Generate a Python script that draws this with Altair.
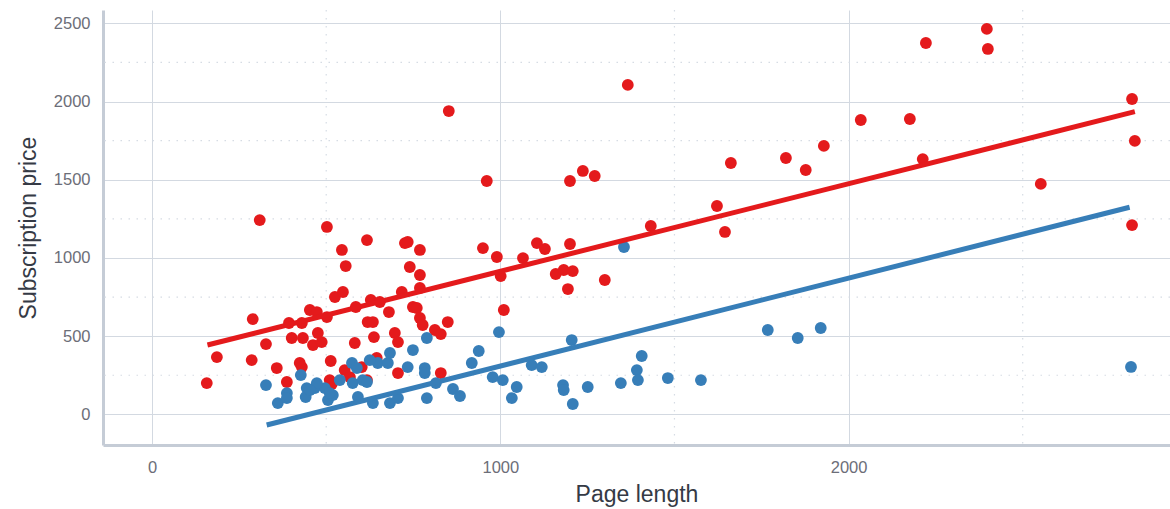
import altair as alt
import pandas as pd

# ---- data ----
red_x = [157, 186, 309, 289, 286, 327, 358, 387, 424, 430, 393, 430, 401, 433, 453, 473, 462, 487,
         476, 502, 513, 510, 516, 502, 545, 556, 617, 525, 548, 582, 585, 628, 654, 619, 634, 637,
         680, 553, 568, 602, 617, 645, 726, 734, 769, 740, 769, 717, 769, 749, 760, 769, 697, 706,
         777, 812, 706, 829, 849, 829, 852, 950, 990, 1001, 1010, 1065, 1105, 1128, 1200, 1159, 1182,
         1208, 1194, 1300, 961, 1200, 1237, 1271, 1366, 1432, 1622, 1645, 1662, 1820, 1877, 1929,
         2035, 2176, 2213, 2222, 2397, 2400, 2552, 2814, 2822, 2814]
red_y = [200, 366, 1242, 609, 347, 449, 296, 207, 328, 302, 584, 584, 488, 488, 667, 654, 443, 462,
         520, 622, 341, 219, 194, 1198, 1051, 948, 1114, 750, 782, 456, 686, 731, 718, 590, 590, 494,
         654, 283, 238, 302, 219, 360, 1095, 1102, 1051, 942, 891, 782, 808, 686, 680, 616, 520, 462,
         571, 539, 264, 264, 590, 513, 1939, 1063, 1006, 884, 667, 999, 1095, 1057, 1089, 897, 923,
         916, 801, 859, 1492, 1492, 1556, 1524, 2106, 1204, 1332, 1166, 1607, 1639, 1562, 1716,
         1882, 1888, 1632, 2374, 2464, 2336, 1473, 2016, 1748, 1210]

blue_x = [327, 361, 387, 387, 427, 444, 441, 467, 496, 505, 519, 574, 576, 591, 634, 648, 677, 683,
          625, 588, 605, 617, 734, 749, 789, 783, 783, 539, 473, 453, 510, 683, 706, 789, 815, 864,
          884, 918, 938, 978, 1007, 996, 1047, 1033, 1090, 1119, 1205, 1180, 1182, 1251, 1208, 1355,
          1346, 1392, 1395, 1406, 1481, 1576, 1768, 1854, 1920, 2811]
blue_y = [187, 72, 136, 104, 251, 168, 111, 168, 168, 91, 123, 328, 200, 111, 72, 328, 328, 392,
          347, 296, 219, 207, 302, 411, 488, 296, 264, 219, 200, 155, 136, 72, 104, 104, 200, 162,
          117, 328, 405, 238, 219, 526, 175, 104, 315, 302, 475, 187, 155, 175, 66, 1070,
          200, 283, 219, 373, 232, 219, 539, 488, 552, 303]

# fitted lines (end points)
fit_red_x = [159, 2822]
fit_red_y = [443, 1935]
fit_blue_x = [329, 2807]
fit_blue_y = [-68, 1324]

x_major = [0, 1000, 2000]
y_major = [0, 500, 1000, 1500, 2000, 2500]
x_minor = [500, 1500, 2500]
y_minor = [250, 750, 1250, 1750, 2250]

groups = ["for-profit", "non-profit"]
colors = ["#e41a1c", "#377eb8"]

pts = pd.DataFrame({
    "pages": red_x + blue_x,
    "price": red_y + blue_y,
    "group": [groups[0]] * len(red_x) + [groups[1]] * len(blue_x),
})
fits = pd.DataFrame({
    "pages": fit_red_x + fit_blue_x,
    "price": fit_red_y + fit_blue_y,
    "group": [groups[0]] * 2 + [groups[1]] * 2,
})
xm = pd.DataFrame({"v": x_minor})
ym = pd.DataFrame({"v": y_minor})

xscale = alt.Scale(domain=[-141, 2923], nice=False, zero=False)
yscale = alt.Scale(domain=[-196, 2585], nice=False, zero=False)
cscale = alt.Scale(domain=groups, range=colors)

X = alt.X("pages:Q", scale=xscale, title="Page length",
          axis=alt.Axis(values=x_major, format="d", grid=True, ticks=False, labelPadding=14,
                        titlePadding=8))
Y = alt.Y("price:Q", scale=yscale, title="Subscription price",
          axis=alt.Axis(values=y_major, format="d", grid=True, ticks=False, labelPadding=13,
                        titlePadding=13))

xminor = alt.Chart(xm).mark_rule(color="#d6dce4", strokeWidth=1.2, strokeDash=[1.5, 6.5]).encode(
    x=alt.X("v:Q", scale=xscale))
yminor = alt.Chart(ym).mark_rule(color="#d6dce4", strokeWidth=1.2, strokeDash=[1.5, 6.5]).encode(
    y=alt.Y("v:Q", scale=yscale))

points = alt.Chart(pts).mark_circle(size=140, opacity=1).encode(
    x=X, y=Y, color=alt.Color("group:N", scale=cscale, legend=None))

lines = alt.Chart(fits).mark_line(strokeWidth=5, strokeCap="butt").encode(
    x=alt.X("pages:Q", scale=xscale), y=alt.Y("price:Q", scale=yscale),
    color=alt.Color("group:N", scale=cscale, legend=None), detail="group:N")

chart = alt.layer(xminor, yminor, points, lines).properties(
    width=1067, height=435,
    autosize=alt.AutoSizeParams(type="none"),
    padding={"left": 103, "top": 10, "right": 0, "bottom": 64},
    background="white",
).configure_view(stroke=None).configure_axis(
    domainColor="#c5ccd6", domainWidth=3, gridColor="#d3d9e1", gridWidth=1,
    labelColor="#6c6e78", labelFontSize=16.5, labelFont="Liberation Sans",
    titleColor="#353a45", titleFontSize=23, titleFont="Liberation Sans", titleFontWeight="normal",
)

chart.save("out.html", embed_options={"renderer": "svg", "actions": False})
